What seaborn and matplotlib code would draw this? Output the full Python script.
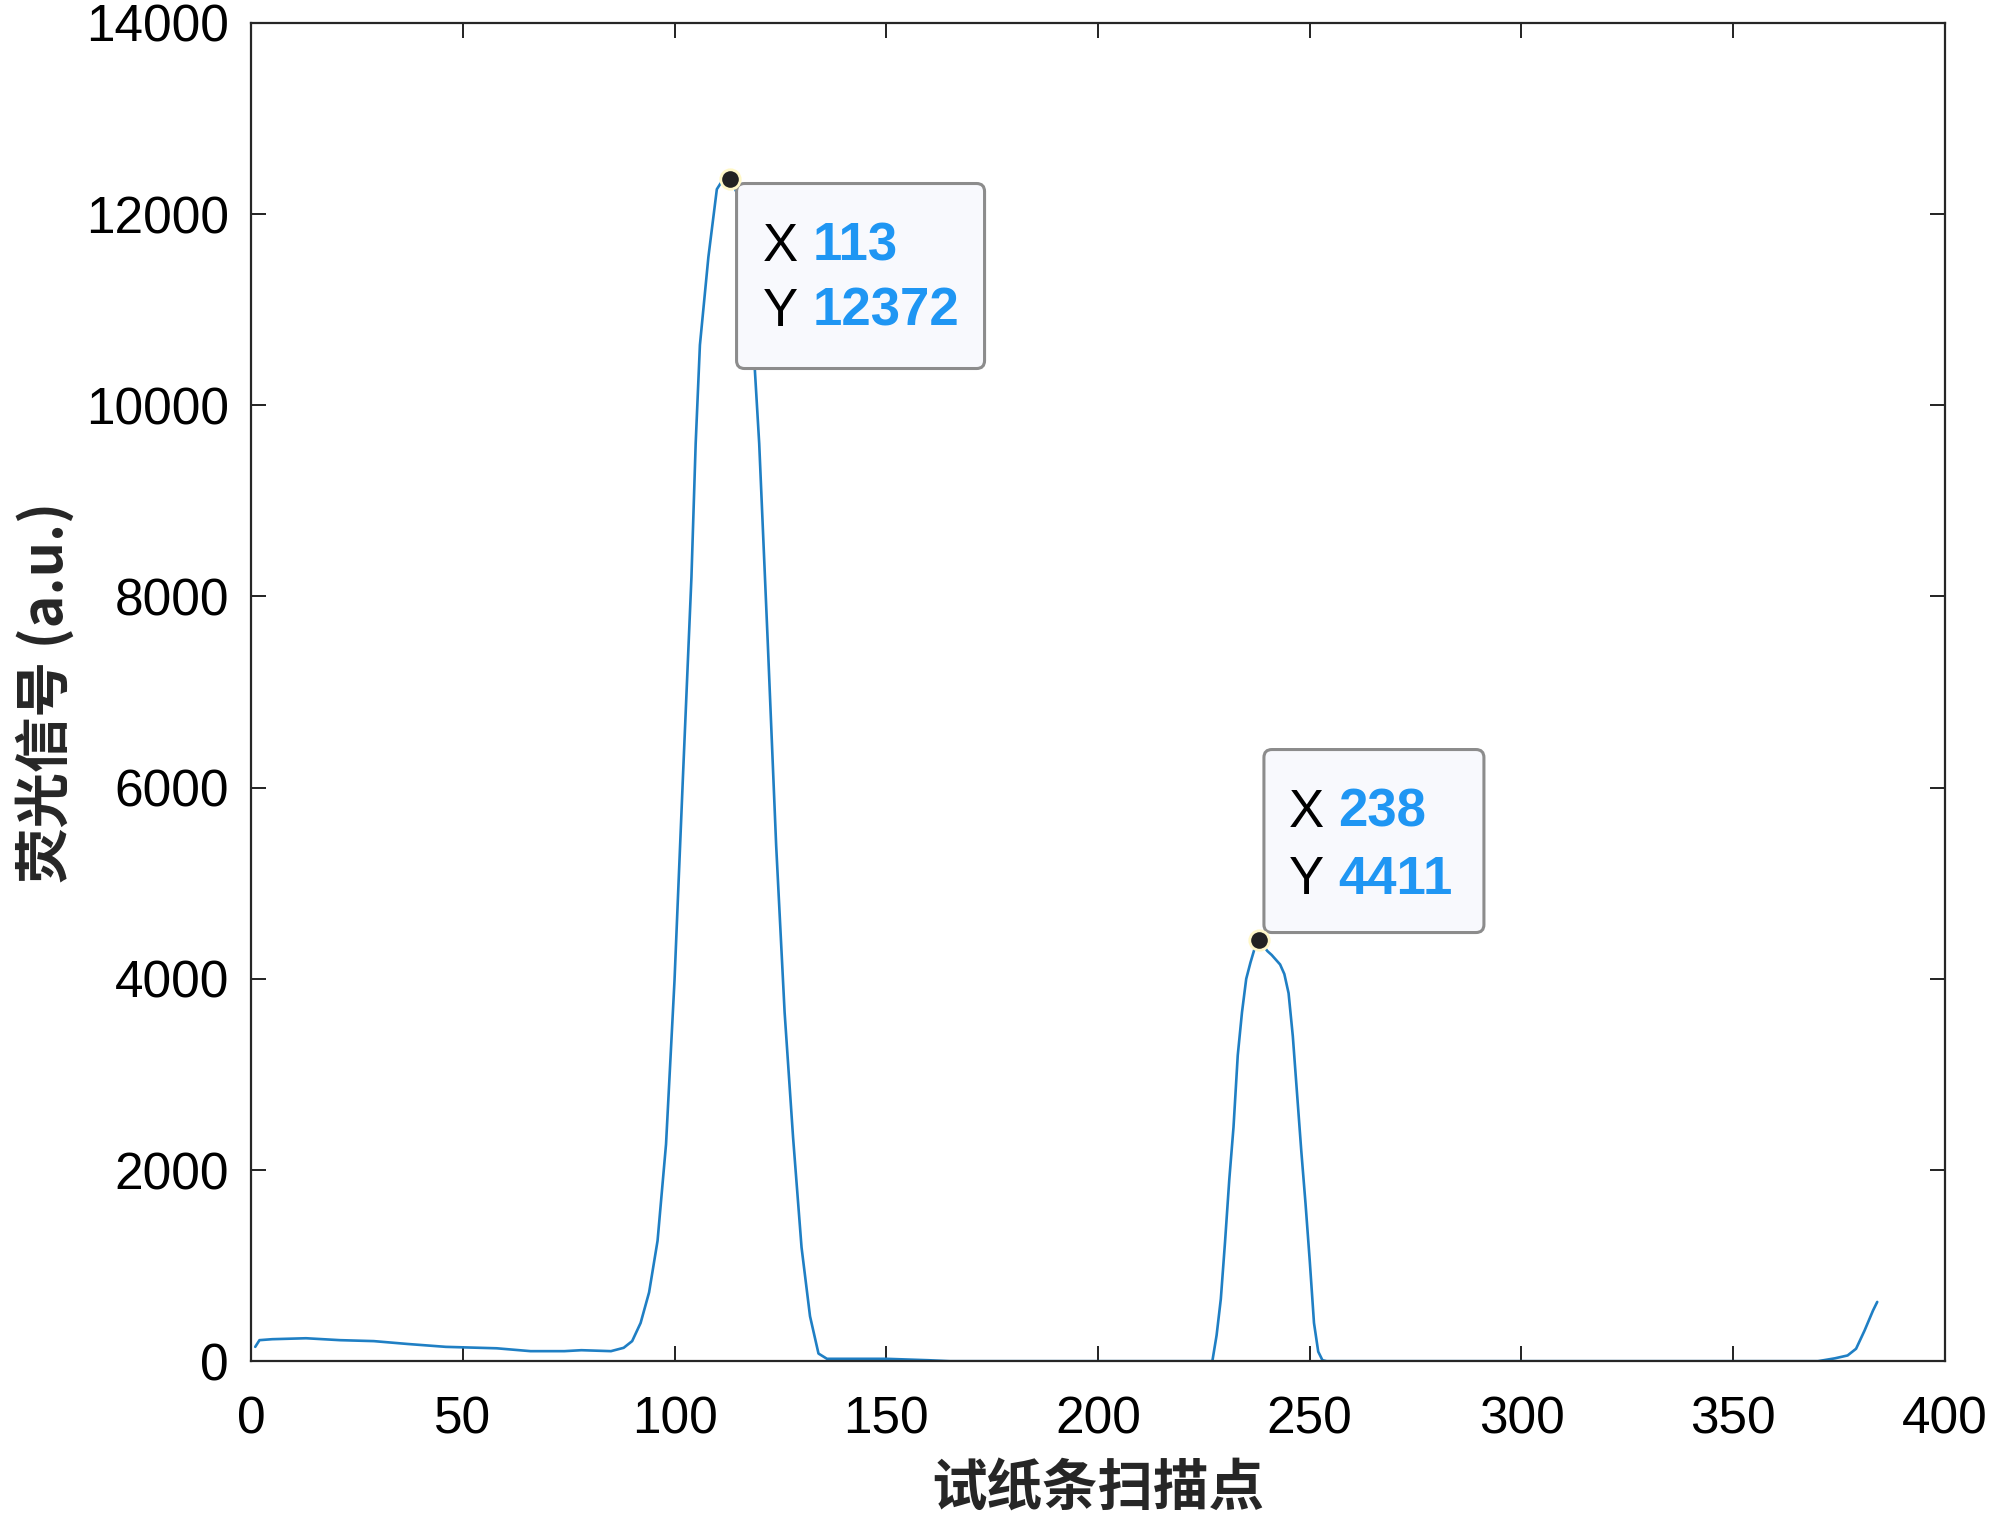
import matplotlib
matplotlib.use('Agg')
import seaborn as sns
import matplotlib.pyplot as plt
from matplotlib.patches import FancyBboxPatch
from matplotlib.transforms import ScaledTranslation

# scan positions and fluorescence values
scan_pos = [1, 2, 5, 13, 21, 29, 37, 46, 58, 66, 74, 78, 85, 88, 90, 92, 94, 96, 98,
            100, 102, 104, 105, 106, 108, 110, 111, 113, 115, 117, 118, 120, 122, 124,
            126, 128, 130, 132, 134, 136, 150, 160, 165, 200, 227, 228, 229, 230, 231,
            232, 233, 234, 235, 236, 237, 238, 239, 240, 241, 242, 243, 244, 245, 246,
            247, 248, 249, 250, 251, 252, 253, 254, 300, 350, 370, 374, 377, 379, 381,
            383, 384]
signal = [150, 220, 230, 240, 220, 210, 180, 150, 135, 105, 105, 115, 105, 140, 210,
          400, 720, 1260, 2270, 3980, 6120, 8200, 9600, 10630, 11550, 12260, 12330,
          12372, 12200, 11700, 11100, 9600, 7540, 5400, 3650, 2340, 1190, 470, 80, 25,
          25, 10, 0, 0, 0, 270, 650, 1250, 1900, 2450, 3200, 3650, 4000, 4170, 4320,
          4411, 4350, 4290, 4250, 4200, 4150, 4050, 3850, 3400, 2800, 2200, 1650, 1050,
          400, 100, 10, 0, 0, 0, 0, 30, 60, 130, 320, 530, 620]

# data tips
tip_x = [113, 238]
tip_y = [12372, 4411]

x_ticks = [0, 50, 100, 150, 200, 250, 300, 350, 400]
y_ticks = [0, 2000, 4000, 6000, 8000, 10000, 12000, 14000]

sns.set_style('ticks')
plt.rcParams['font.family'] = ['Liberation Sans', 'Noto Sans CJK SC', 'DejaVu Sans']

fig = plt.figure(figsize=(20, 15.26), dpi=100)
ax = fig.add_axes([0.1255, 0.108, 0.847, 0.877])

sns.lineplot(x=scan_pos, y=signal, ax=ax, color='#1f7fc4', linewidth=1.9)

ax.set_xlim(0, 400)
ax.set_ylim(0, 14000)
ax.set_xticks(x_ticks)
ax.set_yticks(y_ticks)
ax.tick_params(direction='in', length=11, width=1.4, top=True, right=True,
               labelsize=37, colors='#222222', labelcolor='black')
ax.tick_params(axis='x', pad=25)
ax.tick_params(axis='y', pad=16)
for s in ax.spines.values():
    s.set_linewidth(1.6)
    s.set_color('#262626')

ax.set_xlabel('试纸条扫描点', fontsize=40, fontweight='bold',
              family=['Noto Sans CJK SC', 'DejaVu Sans'], labelpad=12)
ax.set_ylabel('荧光信号 (a.u.)', fontsize=40, fontweight='bold',
              family=['Noto Sans CJK SC', 'DejaVu Sans'], labelpad=8)

# data-tip boxes, sized in inches relative to the marked point
box_specs = [
    # (x0, y0, w, h) box; text x, number x, row1 y, row2 y
    ((0.07, -1.90, 2.48, 1.85), 0.33, 0.83, -0.68, -1.33),
    ((0.05, 0.07, 2.20, 1.83), 0.30, 0.79, 1.27, 0.60),
]

for spec, px, py in zip(box_specs, tip_x, tip_y):
    (bx, by, bw, bh), tx, nx, r1, r2 = spec
    tr = fig.dpi_scale_trans + ScaledTranslation(px, py, ax.transData)
    box = FancyBboxPatch((bx, by), bw, bh, boxstyle='round,pad=0,rounding_size=0.08',
                         transform=tr, facecolor='#f8f9fd', edgecolor='#8c8c8c',
                         linewidth=2.2, zorder=5, clip_on=False)
    ax.add_patch(box)
    ax.text(tx, r1, 'X', transform=tr, fontsize=38, va='center', ha='left',
            color='black', zorder=6)
    ax.text(tx, r2, 'Y', transform=tr, fontsize=38, va='center', ha='left',
            color='black', zorder=6)
    ax.text(nx, r1, str(px), transform=tr, fontsize=38, va='center', ha='left',
            color='#1f96f3', fontweight='bold', zorder=6)
    ax.text(nx, r2, str(py), transform=tr, fontsize=38, va='center', ha='left',
            color='#1f96f3', fontweight='bold', zorder=6)

ax.plot(tip_x, tip_y, 'o', color='#222222', markersize=14, markeredgecolor='#fff8c8',
        markeredgewidth=2, zorder=7, clip_on=False)

fig.savefig('out.png', dpi=100)
